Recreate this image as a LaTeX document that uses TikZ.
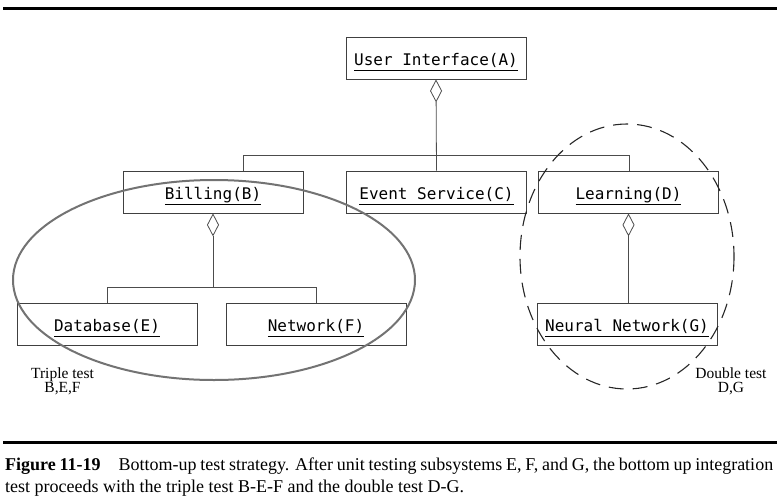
\documentclass[tikz,border=0pt]{standalone}
\usepackage{fontspec}
\setmainfont{Liberation Serif}
\newfontfamily\boxfont{DejaVu Sans Mono}
\usetikzlibrary{arrows.meta}
\tikzset{
  cls/.style={draw=black!75, line width=0.8pt, minimum width=180pt, minimum height=42pt,
    inner sep=0pt, text height=19pt, text depth=5pt, font=\boxfont\fontsize{16}{18}\selectfont},
  aggr/.style={draw=black!70, line width=0.8pt, {Diamond[open,length=23pt,width=12pt,line width=0.8pt]}-},
  link/.style={draw=black!70, line width=0.8pt},
  note/.style={align=center, font=\fontsize{15.5}{14}\selectfont, inner sep=0pt},
  captxt/.style={anchor=base west, inner sep=0pt, font=\fontsize{18}{20}\selectfont},
  rulebar/.style={line width=3pt, black}
}
\newcommand\clsname[1]{\underline{\rule[-3.5pt]{0pt}{1pt}#1}}
\begin{document}
\begin{tikzpicture}[x=1pt,y=-1pt]
\useasboundingbox (0,0) rectangle (777,499);
% rules
\coordinate (r1a) at (3,8); \coordinate (r1b) at (777,8);
\draw[rulebar] (r1a) -- (r1b);
\coordinate (r2a) at (3,442); \coordinate (r2b) at (777,442);
\draw[rulebar] (r2a) -- (r2b);
% classes
\node[cls] (A) at (436,58) {\clsname{User Interface(A)}};
\node[cls] (B) at (213,192) {\clsname{Billing(B)}};
\node[cls] (C) at (436.5,192) {\clsname{Event Service(C)}};
\node[cls] (D) at (628.5,192) {\clsname{Learning(D)}};
\node[cls] (E) at (107,324) {\clsname{Database(E)}};
\node[cls] (F) at (316,324) {\clsname{Network(F)}};
\node[cls] (G) at (627,324) {\clsname{Neural Network(G)}};
% connectors
\coordinate (bB) at (243,171);
\coordinate (barL) at (243,155);
\coordinate (barR) at (629,155);
\coordinate (dD) at (629,171);
\draw[link] (bB) -- (barL) -- (barR) -- (dD);
\draw[aggr] (A.south) -- (C.north);
\draw[aggr] (B.south) -- ++(0,74) coordinate (jB);
\draw[link] (E.north) |- (jB) -| (F.north);
\draw[aggr] (D.south) -- (D.south |- G.north);
% test groups
\draw[black!55, line width=2pt] (214,280) ellipse [x radius=201, y radius=100];
\draw[black!85, line width=1.1pt, dash pattern=on 15pt off 9pt] (627,256.5) ellipse [x radius=107, y radius=132.5];
\node[note] (t1) at (62.5,381) {Triple test\\B,E,F};
\node[note] (t2) at (731,381) {Double test\\D,G};
% caption
\node[captxt] (cap1) at (5,470)
  {\makebox[768pt][s]{\textbf{Figure 11-19}\hspace{18pt}Bottom-up test strategy. After unit testing subsystems E, F, and G, the bottom up integration}};
\node[captxt] (cap2) at (5,492)
  {test proceeds with the triple test B-E-F and the double test D-G.};
\end{tikzpicture}
\end{document}
